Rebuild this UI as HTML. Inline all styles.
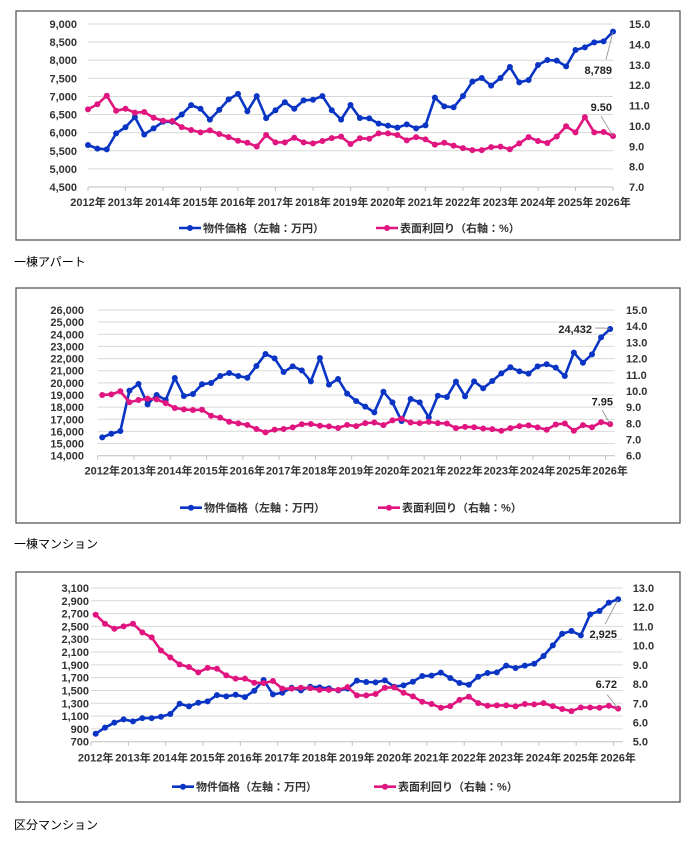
<!DOCTYPE html>
<html><head><meta charset="utf-8">
<style>
body{margin:0;background:#fff;width:699px;height:843px;overflow:hidden;font-family:"Liberation Sans","Noto Sans CJK JP",sans-serif;}
svg{position:absolute;left:0;top:0}
.cap{position:absolute;left:14px;font-size:12px;color:#000;font-family:"Liberation Sans","Noto Sans CJK JP",sans-serif;}
</style></head><body>
<svg id="svg" width="699" height="843"></svg>
<div class="cap" style="top:253px">一棟アパート</div>
<div class="cap" style="top:535px">一棟マンション</div>
<div class="cap" style="top:816px">区分マンション</div>
<script>
const years=["2012年","2013年","2014年","2015年","2016年","2017年","2018年","2019年","2020年","2021年","2022年","2023年","2024年","2025年","2026年"];
const aptPrice=[5660,5560,5540,5980,6150,6430,5950,6120,6300,6300,6500,6760,6660,6360,6630,6920,7070,6590,7010,6400,6620,6840,6660,6890,6910,7010,6620,6360,6764,6405,6396,6250,6193,6138,6230,6120,6202,6966,6727,6700,7012,7408,7509,7298,7509,7813,7390,7454,7868,8006,7988,7831,8282,8356,8494,8521,8789];
const aptYield=[10.81,11.06,11.48,10.74,10.84,10.65,10.68,10.40,10.25,10.24,9.94,9.80,9.68,9.78,9.60,9.45,9.27,9.17,8.99,9.55,9.19,9.19,9.42,9.19,9.14,9.26,9.40,9.47,9.11,9.39,9.37,9.63,9.63,9.55,9.29,9.45,9.34,9.08,9.17,9.03,8.91,8.81,8.81,8.96,8.98,8.85,9.14,9.45,9.26,9.16,9.48,9.98,9.68,10.43,9.68,9.70,9.50];
const manPrice=[15510,15810,16030,19355,19905,18230,19000,18590,20400,18920,19085,19880,19990,20560,20810,20560,20420,21390,22380,22020,20890,21360,21030,20120,22050,19850,20320,19110,18500,18040,17570,19270,18390,16860,18670,18390,17160,18940,18830,20100,18890,20120,19550,20150,20780,21280,20950,20760,21360,21530,21250,20560,22490,21660,22350,23750,24432];
const manYield=[9.75,9.79,9.98,9.30,9.44,9.52,9.48,9.25,8.95,8.86,8.82,8.84,8.47,8.35,8.10,8.00,7.90,7.65,7.44,7.61,7.65,7.75,7.94,7.96,7.85,7.81,7.71,7.90,7.83,8.01,8.05,7.89,8.18,8.28,8.05,8.01,8.09,8.01,7.99,7.70,7.78,7.76,7.68,7.64,7.54,7.70,7.83,7.87,7.75,7.60,7.93,7.99,7.54,7.89,7.76,8.07,7.95];
const unitPrice=[825,919,997,1048,1017,1069,1069,1090,1132,1293,1251,1308,1329,1428,1407,1433,1397,1496,1663,1438,1464,1543,1501,1559,1548,1533,1501,1528,1653,1632,1627,1658,1559,1580,1637,1725,1731,1778,1694,1616,1590,1715,1772,1783,1887,1851,1887,1918,2038,2204,2386,2428,2361,2689,2741,2871,2925];
const unitYield=[11.61,11.14,10.88,11.00,11.14,10.69,10.43,9.75,9.39,9.02,8.89,8.61,8.84,8.80,8.45,8.28,8.28,8.07,8.05,8.16,7.76,7.76,7.81,7.79,7.70,7.70,7.70,7.84,7.41,7.41,7.48,7.81,7.83,7.55,7.36,7.08,6.96,6.77,6.85,7.18,7.34,7.01,6.87,6.89,6.89,6.84,6.96,6.94,7.01,6.85,6.70,6.59,6.78,6.78,6.77,6.87,6.72];
const aptLeftTicks=[4500,5000,5500,6000,6500,7000,7500,8000,8500,9000];
const aptRightTicks=[7,8,9,10,11,12,13,14,15];
const manLeftTicks=[14000,15000,16000,17000,18000,19000,20000,21000,22000,23000,24000,25000,26000];
const manRightTicks=[6,7,8,9,10,11,12,13,14,15];
const unitLeftTicks=[700,900,1100,1300,1500,1700,1900,2100,2300,2500,2700,2900,3100];
const unitRightTicks=[5,6,7,8,9,10,11,12,13];

const NS="http://www.w3.org/2000/svg";
const svg=document.getElementById('svg');
function mk(tag,attrs,parent){const e=document.createElementNS(NS,tag);for(const k in attrs)e.setAttribute(k,attrs[k]);(parent||svg).appendChild(e);return e;}
const BLUE="#0a35c4",PINK="#e0157f",TXT="#333";
function fmt(v){return v.toLocaleString('en-US');}
function drawChart(c){
  const g=mk('g',{});
  
  
  const fr=mk('rect',{x:c.fx,y:c.fy,width:c.fw,height:c.fh,fill:'#fff',stroke:'#595959','stroke-width':1.3},g);
  
  
  const L=c.lt, R=c.rt;
  const yL=v=>c.y1+(v-L[0])/(L[L.length-1]-L[0])*(c.y0-c.y1);
  const yR=v=>c.y1+(v-R[0])/(R[R.length-1]-R[0])*(c.y0-c.y1);
  const xi=i=>c.x0+(i+c.off)*c.step;
  L.forEach(v=>{
    const y=yL(v);
    if(v!==L[0]){const gl=mk('line',{x1:c.x0,x2:c.xEnd,y1:y,y2:y,stroke:'#d9d9d9','stroke-width':1},g);
    
    }
    const t=mk('text',{x:c.lx,y:y+4,'text-anchor':'end','font-size':11,'font-weight':'bold',fill:TXT},g);
    t.textContent=fmt(v);
    
    
  });
  R.forEach(v=>{
    const t=mk('text',{x:c.rx,y:yR(v)+4,'font-size':11,'font-weight':'bold',fill:TXT},g);
    t.textContent=v.toFixed(1);
    
    
  });
  const ax=mk('line',{x1:c.x0,x2:c.xEnd,y1:c.y1,y2:c.y1,stroke:'#bfbfbf','stroke-width':1},g);
  
  
  years.forEach((yr,k)=>{
    const tx=c.x0+k*4*c.step;
    mk('line',{x1:tx,x2:tx,y1:c.y1,y2:c.y1+4,stroke:'#bfbfbf'},g);
    const t=mk('text',{x:tx+c.labOff*c.step,y:c.yl,'text-anchor':'middle','font-size':11,'font-weight':'bold',fill:TXT},g);
    t.textContent=yr;
    
    
  });
  function series(data,yf,col,nm){
    const pts=data.map((v,i)=>xi(i)+','+yf(v)).join(' ');
    const pl=mk('polyline',{points:pts,fill:'none',stroke:col,'stroke-width':2.6,'stroke-linejoin':'round'},g);
    
    
    data.forEach((v,i)=>{
      const p=mk('circle',{cx:xi(i),cy:yf(v),r:3,fill:col},g);
      
      
    });
  }
  series(c.price,yL,BLUE,'price');
  series(c.yld,yR,PINK,'yield');
  const n=c.price.length-1, lx=xi(n);
  const py=yL(c.price[n]), ry=yR(c.yld[n]);
  mk('polyline',{points:c.pLine(lx,py),fill:'none',stroke:'#8c8c8c','stroke-width':0.8},g);
  const pt=mk('text',{x:c.pTxt[0],y:c.pTxt[1],'text-anchor':'end','font-size':11,'font-weight':'bold',fill:'#222'},g);
  pt.textContent=fmt(c.price[n]);
  
  
  mk('polyline',{points:c.yLine(lx,ry),fill:'none',stroke:'#8c8c8c','stroke-width':0.8},g);
  const yt=mk('text',{x:c.yTxt[0],y:c.yTxt[1],'text-anchor':'end','font-size':11,'font-weight':'bold',fill:'#222'},g);
  yt.textContent=c.yld[n].toFixed(2);
  
  
  [[c.lg[0],BLUE,'物件価格（左軸：万円）','legend-price'],[c.lg[1],PINK,'表面利回り（右軸：%）','legend-yield']].forEach(a=>{
    const lgg=mk('g',{},g);
    
    
    mk('line',{x1:a[0],x2:a[0]+22,y1:c.ly,y2:c.ly,stroke:a[1],'stroke-width':2.6},lgg);
    mk('circle',{cx:a[0]+11,cy:c.ly,r:3,fill:a[1]},lgg);
    const t=mk('text',{x:a[0]+24,y:c.ly+4,'font-size':11,'font-weight':'bold',fill:TXT},lgg);
    t.textContent=a[2];
  });
}
drawChart({name:'chart-apartment',fx:16,fy:11,fw:664,fh:229,price:aptPrice,yld:aptYield,lt:aptLeftTicks,rt:aptRightTicks,
  x0:88,step:9.375,off:0,labOff:0,xEnd:613,y0:24,y1:187,lx:77,rx:629,yl:206,ly:228,lg:[179,376],
  pLine:(x,y)=>`${x},${y} ${x-7},${y+28}`,pTxt:[612,74],yLine:(x,y)=>`${x},${y} ${x-12},${y-20}`,yTxt:[612,111]});
drawChart({name:'chart-mansion',fx:16,fy:288,fw:664,fh:235,price:manPrice,yld:manYield,lt:manLeftTicks,rt:manRightTicks,
  x0:97.7,step:9.07,off:0.5,labOff:0.5,xEnd:614.7,y0:310,y1:455.7,lx:84,rx:626,yl:474.5,ly:507.7,lg:[180,378],
  pLine:(x,y)=>`${x},${y} ${x-6},${y-1} ${x-15},${y-1}`,pTxt:[592,333],yLine:(x,y)=>`${x},${y} ${x-8},${y-14}`,yTxt:[613,405.5]});
drawChart({name:'chart-unit',fx:16,fy:572,fw:664,fh:230,price:unitPrice,yld:unitYield,lt:unitLeftTicks,rt:unitRightTicks,
  x0:91,step:9.33,off:0.5,labOff:0.5,xEnd:623,y0:588,y1:741.7,lx:89,rx:632.7,yl:761.5,ly:786.7,lg:[172,374],
  pLine:(x,y)=>`${x},${y} ${x-13},${y+25}`,pTxt:[617,638],yLine:(x,y)=>`${x},${y} ${x-11},${y-14}`,yTxt:[617,688]});
</script>
</body></html>
